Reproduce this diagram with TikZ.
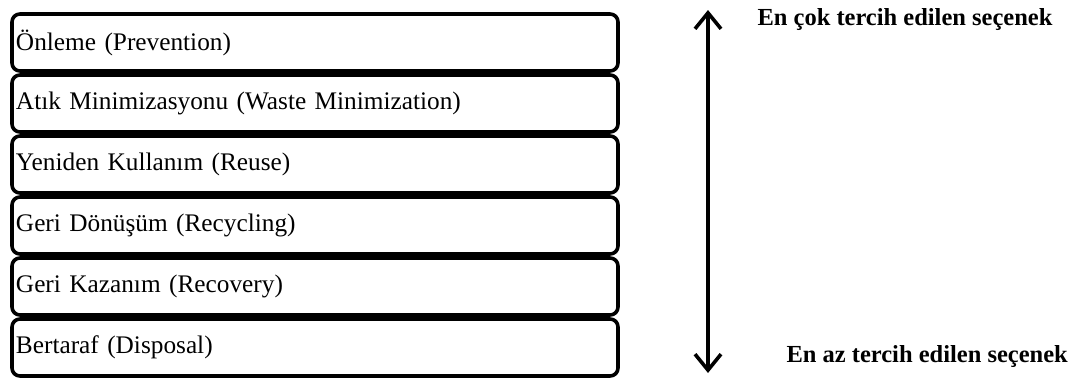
\documentclass[tikz,border=0pt]{standalone}
\usepackage{fontspec}
\setmainfont{Liberation Serif}
\usepackage{tikz}
\usetikzlibrary{arrows.meta, positioning}

\begin{document}
\begin{tikzpicture}[
    x=1pt, y=-1pt,
    level/.style={draw, line width=3.6pt, rounded corners=8pt, minimum width=606pt, minimum height=57pt,
        text width=598pt, inner xsep=4pt, align=left, outer sep=0pt, font=\fontsize{25.3}{28}\selectfont},
    label/.style={font=\fontsize{24.5}{28}\selectfont\bfseries, anchor=west},
    arrow/.style={{Straight Barb[length=16pt, width=26pt]}-{Straight Barb[length=16pt, width=26pt]}, line width=3.6pt},
    node distance=4pt
]
    \useasboundingbox (0,0) rectangle (1068,381);

    % Hierarchy levels
    \node[level] (prev) at (315,42.5) {Önleme (Prevention)};
    \node[level, below=of prev] (min) {Atık Minimizasyonu (Waste Minimization)};
    \node[level, below=of min] (reuse) {Yeniden Kullanım (Reuse)};
    \node[level, below=of reuse] (recyc) {Geri Dönüşüm (Recycling)};
    \node[level, below=of recyc] (recov) {Geri Kazanım (Recovery)};
    \node[level, below=of recov] (disp) {Bertaraf (Disposal)};

    % Preference arrow
    \coordinate (most_end) at (708,10);
    \coordinate (least_end) at (708,373);
    \draw[arrow] (most_end) -- (least_end);

    % Labels
    \node[label] (most) at (754,20) {En çok tercih edilen seçenek};
    \node[label] (least) at (783,357) {En az tercih edilen seçenek};

\end{tikzpicture}
\end{document}
